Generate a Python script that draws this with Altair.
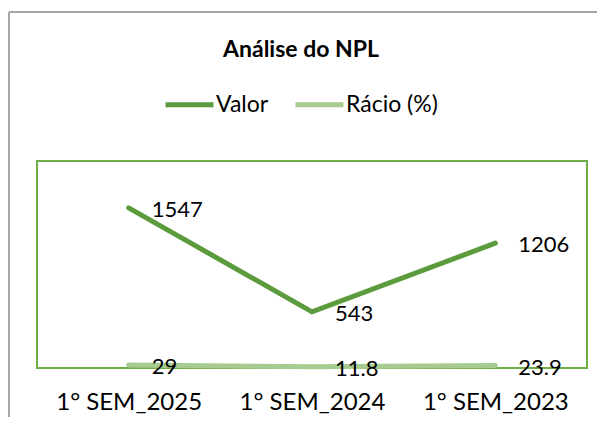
import altair as alt
import pandas as pd

categories = ["1° SEM_2025", "1° SEM_2024", "1° SEM_2023"]
valor = [1547, 543, 1206]
racio = [29, 11.8, 23.9]
series_names = ["Valor", "Rácio (%)"]
series_colors = ["#5B9B3B", "#A6CB8F"]
title_text = "Análise do NPL"

rows = []
for c, v in zip(categories, valor):
    rows.append({"cat": c, "serie": "Valor", "val": v, "lab": str(v)})
for c, r in zip(categories, racio):
    rows.append({"cat": c, "serie": "Rácio (%)", "val": r, "lab": str(r)})
df = pd.DataFrame(rows)

FONT = "Lato"
W, H = 550, 207

x = alt.X("cat:N", sort=categories, title=None,
          scale=alt.Scale(paddingInner=0, paddingOuter=0.5),
          axis=alt.Axis(labelAngle=0, domain=False, ticks=False, labelPadding=22,
                        labelFontSize=24, labelFont=FONT, labelColor="#000000"))
y = alt.Y("val:Q", scale=alt.Scale(domain=[0, 2000], nice=False), axis=None)
color = alt.Color("serie:N", scale=alt.Scale(domain=series_names, range=series_colors),
                  legend=alt.Legend(title=None, orient="none", direction="horizontal",
                                    legendX=126, legendY=-83, symbolType="stroke",
                                    symbolSize=2300, symbolStrokeWidth=5,
                                    labelFont=FONT, labelFontSize=23, labelColor="#000000",
                                    labelOffset=0, columnPadding=16))

base = alt.Chart(df)
lines = base.mark_line(strokeWidth=5, strokeCap="round").encode(
    x=x, y=y, color=color, detail="serie:N")
labels = base.mark_text(align="left", baseline="middle", dx=23, dy=2,
                        font=FONT, fontSize=22, color="#000000").encode(
    x=alt.X("cat:N", sort=categories), y="val:Q", text="lab:N")

frame_src = pd.DataFrame({"k": [0]})
left_border = alt.Chart(frame_src).mark_rule(color="#A6A6A6", strokeWidth=2).encode(
    x=alt.value(-28), y=alt.value(-149), y2=alt.value(270))
top_border = alt.Chart(frame_src).mark_rule(color="#A6A6A6", strokeWidth=2).encode(
    x=alt.value(-28), x2=alt.value(620), y=alt.value(-149))
title_mark = alt.Chart(pd.DataFrame({"t": [title_text]})).mark_text(
    font=FONT, fontSize=23, fontWeight="bold", color="#000000",
    align="center", baseline="middle").encode(
    x=alt.value(264), y=alt.value(-111), text="t:N")

chart = alt.layer(left_border, top_border, title_mark, lines, labels).properties(
    width=W, height=H,
    autosize=alt.AutoSizeParams(type="none"),
    padding={"left": 29, "top": 153, "right": 10, "bottom": 49},
    background="white",
).configure_view(stroke="#70AD47", strokeWidth=2)

chart.save("out.html", embed_options={"renderer": "svg", "actions": False})
